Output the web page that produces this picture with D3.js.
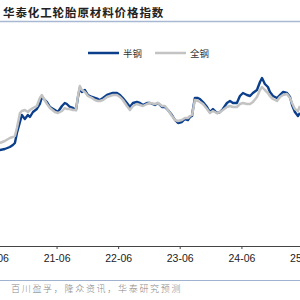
<!DOCTYPE html>
<html>
<head>
<meta charset="utf-8">
<script src="https://cdn.jsdelivr.net/npm/d3@7"></script>
<style>
  body { margin: 0; background: #fff; }
  svg { display: block; }
</style>
</head>
<body>
<svg id="chart" width="300" height="300"></svg>
<script>
var dates = [
  '2020-06-30','2020-07-29','2020-08-28','2020-09-15','2020-09-27','2020-10-09','2020-10-27','2020-11-07','2020-11-25','2020-12-13',
  '2020-12-25','2021-01-12','2021-02-04','2021-02-22','2021-03-06','2021-03-12','2021-04-05','2021-04-23','2021-05-22','2021-06-09',
  '2021-07-03','2021-07-20','2021-08-01','2021-08-19','2021-09-06','2021-09-24','2021-10-06','2021-10-17','2021-10-29','2021-11-16',
  '2021-12-04','2021-12-28','2022-01-14','2022-02-01','2022-02-13','2022-03-03','2022-03-27','2022-04-13','2022-05-01','2022-05-25',
  '2022-06-12','2022-06-29','2022-07-23','2022-08-10','2022-08-28','2022-09-20','2022-10-08','2022-10-26','2022-11-19','2022-12-07',
  '2023-01-05','2023-01-23','2023-02-16','2023-03-05','2023-03-23','2023-04-16','2023-05-04','2023-05-22','2023-06-14','2023-07-02',
  '2023-07-20','2023-08-01','2023-08-13','2023-08-18','2023-08-30','2023-09-17','2023-09-29','2023-10-17','2023-11-10','2023-11-27',
  '2023-12-15','2024-01-08','2024-01-26','2024-02-12','2024-03-07','2024-03-25','2024-04-12','2024-05-05','2024-05-23','2024-06-10',
  '2024-07-04','2024-07-22','2024-08-08','2024-09-01','2024-09-19','2024-10-01','2024-10-18','2024-11-05','2024-11-17','2024-12-05',
  '2024-12-29','2025-01-15','2025-02-02','2025-02-26','2025-03-16','2025-03-28','2025-04-14','2025-05-02','2025-05-14'
];

// 半钢
var semiSteel = [
  96,97,99,101,103,113,124,131,127,131,
  129,134,137,142,149,148,144,139,136,134,
  140,143,142,139,138,136,149,158,154,156,
  151,149,148,147,146,148,151,152,153,153,
  151,148,143,139,143,144,143,141,143,143,
  141,143,139,139,136,131,126,123,124,127,
  126,129,130,136,148,148,147,144,139,134,
  137,133,134,137,143,145,143,143,150,153,
  151,150,153,156,164,168,162,159,154,150,
  148,151,154,153,149,141,134,130,133
];

// 全钢
var allSteel = [
  103,105,108,109,110,118,133,135,136,134,
  136,138,140,148,151,149,142,138,134,133,
  135,138,137,137,136,136,150,160,156,154,
  150,148,146,145,145,146,149,150,151,151,
  149,146,140,136,140,142,141,140,142,143,
  142,143,140,140,136,130,126,125,126,128,
  128,130,131,135,146,145,144,142,137,133,
  135,133,134,136,139,140,139,139,142,143,
  142,142,144,149,156,159,156,153,150,147,
  145,149,151,152,148,143,137,135,140
];

var tickDates = ['2020-06-01','2021-06-01','2022-06-01','2023-06-01','2024-06-01','2025-06-01'];

var seriesNames = ['半钢', '全钢'];
var seriesColors = ['#0b3f8c', '#c3c3c3'];

var parse = d3.timeParse('%Y-%m-%d');
var svg = d3.select('#chart');

var x = d3.scaleTime()
  .domain([parse('2020-06-01'), parse('2025-06-01')])
  .range([-5, 303]);
var y = d3.scaleLinear().domain([0, 200]).range([246, 46]);

// title
svg.append('text')
  .attr('x', 3).attr('y', 17)
  .attr('font-family', '"Noto Sans CJK SC", sans-serif')
  .attr('font-size', 11.5).attr('font-weight', 'bold')
  .attr('letter-spacing', 0.9)
  .attr('fill', '#222')
  .text('华泰化工轮胎原材料价格指数');

svg.append('line')
  .attr('x1', 0).attr('x2', 300).attr('y1', 21.5).attr('y2', 21.5)
  .attr('stroke', '#a9b8d2').attr('stroke-width', 1.5);

// legend
var legend = svg.append('g').selectAll('g')
  .data(seriesNames)
  .enter().append('g')
  .attr('transform', function(d, i) { return 'translate(' + (88 + i * 67) + ',53)'; });
legend.append('line')
  .attr('x1', 0).attr('x2', 31)
  .attr('stroke', function(d, i) { return seriesColors[i]; })
  .attr('stroke-width', 2.5);
legend.append('text')
  .attr('x', 35).attr('y', 3.5)
  .attr('font-family', '"Noto Sans CJK SC", sans-serif')
  .attr('font-size', 9.5).attr('fill', '#333')
  .text(function(d) { return d; });

// axis
var axis = svg.append('g')
  .attr('transform', 'translate(0,246)')
  .call(d3.axisBottom(x)
    .tickValues(tickDates.map(parse))
    .tickFormat(d3.timeFormat('%y-%m'))
    .tickSize(3)
    .tickSizeOuter(0));
axis.select('.domain').attr('stroke', '#444');
axis.selectAll('.tick line').attr('stroke', '#444');
axis.selectAll('.tick text')
  .attr('font-family', '"Liberation Sans", Arial, sans-serif')
  .attr('font-size', 10.5).attr('fill', '#222')
  .attr('dy', '0.95em');

// lines
var rows = dates.map(function(d, i) {
  return { date: parse(d), v: [semiSteel[i], allSteel[i]] };
});
[0, 1].forEach(function(k) {
  var line = d3.line()
    .x(function(d) { return x(d.date); })
    .y(function(d) { return y(d.v[k]); });
  svg.append('path')
    .datum(rows)
    .attr('fill', 'none')
    .attr('stroke', seriesColors[k])
    .attr('stroke-width', k === 0 ? 2.4 : 2.5)
    .attr('stroke-linejoin', 'round')
    .attr('d', line);
});

// footer
svg.append('line')
  .attr('x1', 0).attr('x2', 300).attr('y1', 280.5).attr('y2', 280.5)
  .attr('stroke', '#9fb2d0').attr('stroke-width', 1);
svg.append('text')
  .attr('x', 11).attr('y', 292)
  .attr('font-family', '"Noto Sans CJK SC", sans-serif')
  .attr('font-size', 9).attr('font-weight', 300).attr('fill', '#888')
  .attr('letter-spacing', 1.7)
  .text('百川盈孚，隆众资讯，华泰研究预测');
</script>
</body>
</html>
